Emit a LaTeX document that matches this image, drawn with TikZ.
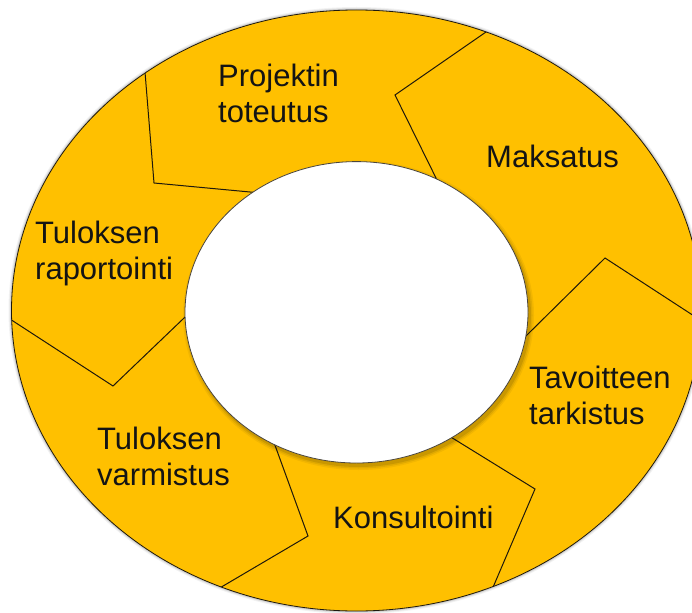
\documentclass[tikz,border=0pt]{standalone}
\usepackage{fontspec}
\setmainfont{Liberation Sans}
\usetikzlibrary{calc}
\definecolor{ringgold}{RGB}{255,192,0}
\definecolor{inkdark}{RGB}{30,24,12}
\begin{document}
\begin{tikzpicture}[x=1pt,y=-1pt,
  ringedge/.style={draw=inkdark, line width=0.8pt},
  divider/.style={draw=inkdark, line width=1pt, line join=miter},
  steplabel/.style={font=\fontsize{31}{36}\selectfont, text=black!92, inner sep=0pt, align=left, anchor=base west}]
\useasboundingbox (0,0) rectangle (692,612);
% centres of the two ellipses
\coordinate (oc) at (356.5,310.5);
\coordinate (ic) at (356.5,312.3);
% soft shadow round the outer ring
\foreach \w/\o in {6/0.05,4/0.07,2.4/0.1}{
  \draw[line width=\w pt, black, opacity=\o] (oc) ellipse [x radius=345pt, y radius=300.5pt];
}
\fill[ringgold] (oc) ellipse [x radius=345pt, y radius=300.5pt];
% chevron dividers: outer end, bend point, inner end
\coordinate (o1) at (145,72);  \coordinate (a1) at (154,183); \coordinate (i1) at (250,192);
\coordinate (o2) at (486,32);  \coordinate (a2) at (395,95);  \coordinate (i2) at (437,180);
\coordinate (o3) at (691,314); \coordinate (a3) at (605,258); \coordinate (i3) at (530,332);
\coordinate (o4) at (491,592); \coordinate (a4) at (535,489); \coordinate (i4) at (454,439);
\coordinate (o5) at (218,589); \coordinate (a5) at (308,536); \coordinate (i5) at (276,448);
\coordinate (o6) at (13,321);  \coordinate (a6) at (113,386); \coordinate (i6) at (183,319);
\begin{scope}
  \clip (oc) ellipse [x radius=345pt, y radius=300.5pt];
  \foreach \n in {1,...,6}{
    \draw[divider] ($(a\n)!1.15!(o\n)$) -- (a\n) -- ($(a\n)!1.15!(i\n)$);
  }
\end{scope}
\draw[ringedge] (oc) ellipse [x radius=345pt, y radius=300.5pt];
% shadow cast by the white centre
\foreach \k/\o in {4/0.05,2.5/0.07,1/0.1}{
  \fill[black, opacity=\o] ($(ic)+(2,3)$) ellipse [x radius={171.5pt+\k pt}, y radius={150.7pt+\k pt}];
}
\fill[white] (ic) ellipse [x radius=171.5pt, y radius=150.7pt];
\draw[ringedge, draw=inkdark!80] (ic) ellipse [x radius=171.5pt, y radius=150.7pt];
% step labels (anchored at the baseline of the last line)
\node[steplabel] (toteutus) at (218,123) {Projektin\\toteutus};
\node[steplabel] (maksatus) at (486,168) {Maksatus};
\node[steplabel] (tavoite) at (529,424) {Tavoitteen\\tarkistus};
\node[steplabel] (konsultointi) at (333,528) {Konsultointi};
\node[steplabel] (varmistus) at (97,485) {Tuloksen\\varmistus};
\node[steplabel] (raportointi) at (35,279) {Tuloksen\\raportointi};
\end{tikzpicture}
\end{document}
